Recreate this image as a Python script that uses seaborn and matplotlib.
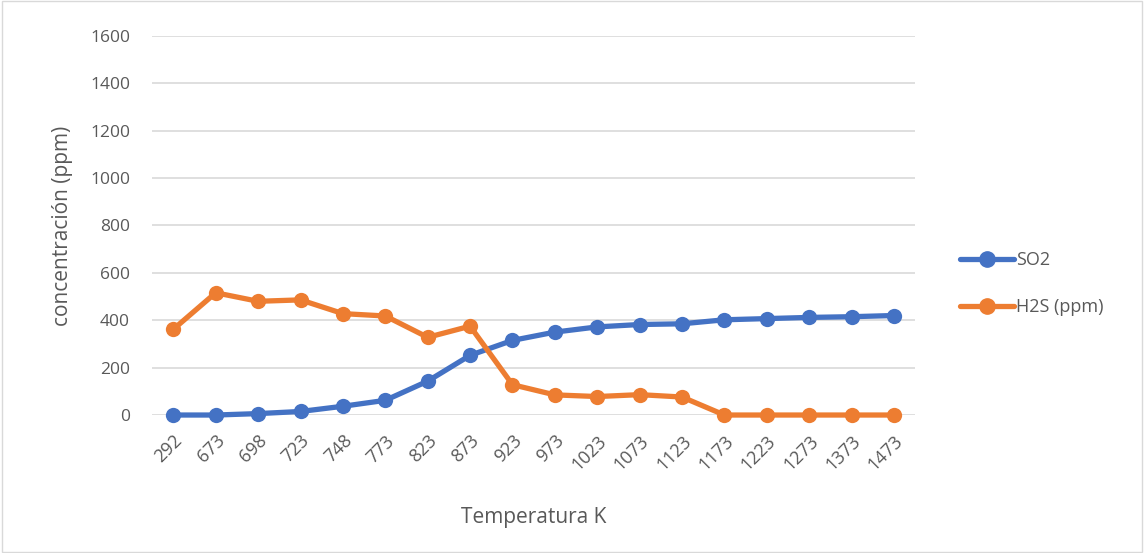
import matplotlib
matplotlib.use("Agg")
import matplotlib.pyplot as plt
import seaborn as sns
import pandas as pd

# ---- data ----
temperaturas = ["292", "673", "698", "723", "748", "773", "823", "873", "923", "973",
                "1023", "1073", "1123", "1173", "1223", "1273", "1373", "1473"]
so2 = [0, 0, 6, 15, 37, 62, 143, 252, 315, 350, 372, 382, 385, 402, 407, 412, 415, 420]
h2s = [362, 516, 480, 486, 428, 418, 328, 375, 128, 85, 78, 86, 76, 0, 0, 0, 0, 0]

azul = "#4472C4"
naranja = "#ED7D31"
gris = "#595959"

sns.set_theme(style="white")
plt.rcParams['font.family'] = ['Open Sans', 'DejaVu Sans']

df = pd.DataFrame({"pos": list(range(len(temperaturas))) * 2,
                   "valor": so2 + h2s,
                   "serie": ["SO2"] * len(so2) + ["H2S (ppm)"] * len(h2s)})

fig = plt.figure(figsize=(11.44, 5.53), dpi=100)
ax = fig.add_axes([0.133, 0.2495, 0.667, 0.6855])

sns.lineplot(data=df, x="pos", y="valor", hue="serie", palette=[azul, naranja],
             marker="o", markersize=11, markeredgewidth=0, linewidth=3.8,
             legend=False, ax=ax, zorder=3)

ax.set_xlim(-0.5, 17.5)
ax.set_ylim(0, 1600)
ax.set_yticks(range(0, 1601, 200))
ax.set_xticks(range(len(temperaturas)))
ax.set_xticklabels(temperaturas, rotation=45, ha="right", rotation_mode="anchor")
ax.tick_params(axis="y", colors=gris, labelsize=12.5, length=0, pad=16)
ax.tick_params(axis="x", colors=gris, labelsize=13, length=0, pad=12)
ax.grid(axis="y", color="#D9D9D9", linewidth=1.2)
for s in ax.spines.values():
    s.set_visible(False)
ax.set_axisbelow(True)
for ln in ax.lines:
    ln.set_clip_on(False)

ax.set_xlabel("Temperatura K", color=gris, fontsize=15, labelpad=24)
ax.set_ylabel("concentración (ppm)", color=gris, fontsize=15, labelpad=12)

# leyenda
handles = [plt.Line2D([], [], color=azul, marker="o", markersize=11, linewidth=3.8),
           plt.Line2D([], [], color=naranja, marker="o", markersize=11, linewidth=3.8)]
fig.legend(handles, ["SO2", "H2S (ppm)"], loc="center left", bbox_to_anchor=(0.825, 0.487),
           frameon=False, fontsize=13, labelcolor=gris, handlelength=3, labelspacing=1.6,
           handletextpad=0.1)

# borde del gráfico
fig.patches.append(plt.Rectangle((0.002, 0.002), 0.996, 0.996, transform=fig.transFigure,
                                 fill=False, edgecolor="#D9D9D9", linewidth=1))

fig.savefig("out.png", dpi=100)
